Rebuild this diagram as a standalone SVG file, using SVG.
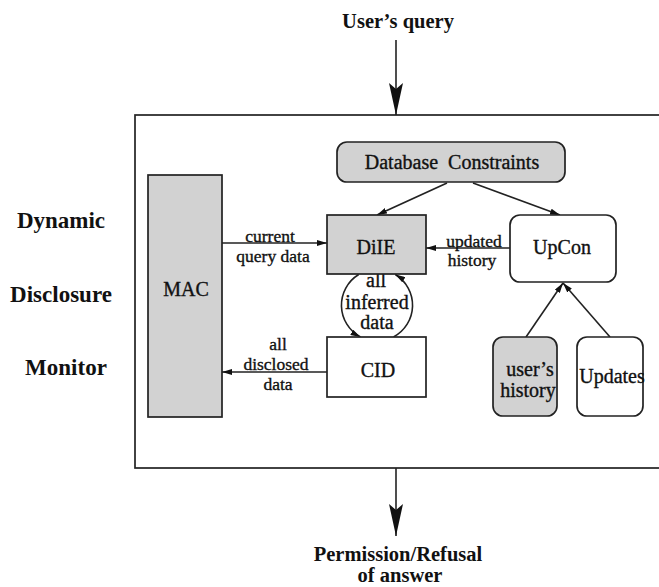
<svg xmlns="http://www.w3.org/2000/svg" width="659" height="587" viewBox="0 0 659 587">
<style>
text{font-family:"Liberation Serif","Tinos","Nimbus Roman","DejaVu Serif",serif;fill:#111;text-anchor:middle}
.n,.l{stroke:#111;stroke-width:0.35}
.b{font-weight:bold}
.big{font-size:23px}
.ttl{font-size:20.5px}
.n{font-size:20px}
.l{font-size:17.5px}
.box{stroke:#222;stroke-width:1.7}
.g{fill:#d2d2d2}
.w{fill:#fff}
.c{fill:none;stroke:#222;stroke-width:1.6}
</style>
<defs>
<marker id="ah" viewBox="0 0 10 6" refX="10" refY="3" markerWidth="10" markerHeight="6" markerUnits="userSpaceOnUse" orient="auto">
<path d="M0,0 L10,3 L0,6 z" fill="#111"/>
</marker>
<marker id="big" viewBox="0 0 32 14" refX="32" refY="7" markerWidth="32" markerHeight="14" markerUnits="userSpaceOnUse" orient="auto">
<path d="M0,0 L32,7 L0,14 L6,7 z" fill="#111"/>
</marker>
</defs>
<rect width="659" height="587" fill="#fff"/>

<g id="labels-side">
<text class="b big" x="61" y="228">Dynamic</text>
<text class="b big" x="61" y="302">Disclosure</text>
<text class="b big" x="66" y="375">Monitor</text>
</g>

<g id="system-box">
<rect class="box" x="135" y="115" width="540" height="353" fill="none"/>
</g>

<g id="users-query">
<text class="b ttl" x="398" y="28">User’s query</text>
</g>
<g id="permission">
<text class="b ttl" x="398" y="561">Permission/Refusal</text>
<text class="b ttl" x="400" y="582">of answer</text>
</g>

<g id="connectors">
<line class="c" x1="396" y1="40" x2="396" y2="115" marker-end="url(#big)"/>
<line class="c" x1="396" y1="468" x2="396" y2="536" marker-end="url(#big)"/>
<line class="c" x1="447" y1="183" x2="377" y2="215" marker-end="url(#ah)"/>
<line class="c" x1="473" y1="183" x2="560" y2="215" marker-end="url(#ah)"/>
<line class="c" x1="222" y1="243" x2="327" y2="243" marker-end="url(#ah)"/>
<line class="c" x1="510" y1="248" x2="426" y2="248" marker-end="url(#ah)"/>
<line class="c" x1="327" y1="372" x2="222" y2="372" marker-end="url(#ah)"/>
<line class="c" x1="526" y1="337" x2="563" y2="283" marker-end="url(#ah)"/>
<line class="c" x1="610" y1="337" x2="563" y2="283" marker-end="url(#ah)"/>
<path class="c" d="M393.5,337 A36,36 0 0 0 395.3,274.5" marker-end="url(#ah)"/>
<path class="c" d="M358.7,274.5 A36,36 0 0 0 360.5,337" marker-end="url(#ah)"/>
</g>

<g id="edge-labels">
<text class="l" x="270" y="242">current</text>
<text class="l" x="273" y="262">query data</text>
<text class="l" x="474" y="247">updated</text>
<text class="l" x="472" y="266">history</text>
<text class="l" x="278" y="350">all</text>
<text class="l" x="276" y="370">disclosed</text>
<text class="l" x="278" y="390">data</text>
<text class="n" x="376" y="287">all</text>
<text class="n" x="377" y="309">inferred</text>
<text class="n" x="377" y="329">data</text>
</g>

<g id="db-constraints">
<rect class="box g" x="337" y="142" width="228" height="40" rx="10"/>
<text class="n" x="452" y="169" style="word-spacing:5px">Database Constraints</text>
</g>
<g id="mac">
<rect class="box g" x="148" y="175" width="74" height="242"/>
<text class="n" x="186" y="296">MAC</text>
</g>
<g id="diie">
<rect class="box g" x="327" y="215" width="99" height="59"/>
<text class="n" x="376" y="254">DiIE</text>
</g>
<g id="cid">
<rect class="box w" x="327" y="337" width="99" height="60"/>
<text class="n" x="378" y="377">CID</text>
</g>
<g id="upcon">
<rect class="box w" x="510" y="215" width="106" height="67" rx="10"/>
<text class="n" x="562" y="254">UpCon</text>
</g>
<g id="users-history">
<rect class="box g" x="493" y="337" width="64" height="79" rx="10"/>
<text class="n" x="530" y="376">user’s</text>
<text class="n" x="528" y="397">history</text>
</g>
<g id="updates">
<rect class="box w" x="577" y="337" width="66" height="79" rx="10"/>
<text class="n" x="612" y="383">Updates</text>
</g>
</svg>
